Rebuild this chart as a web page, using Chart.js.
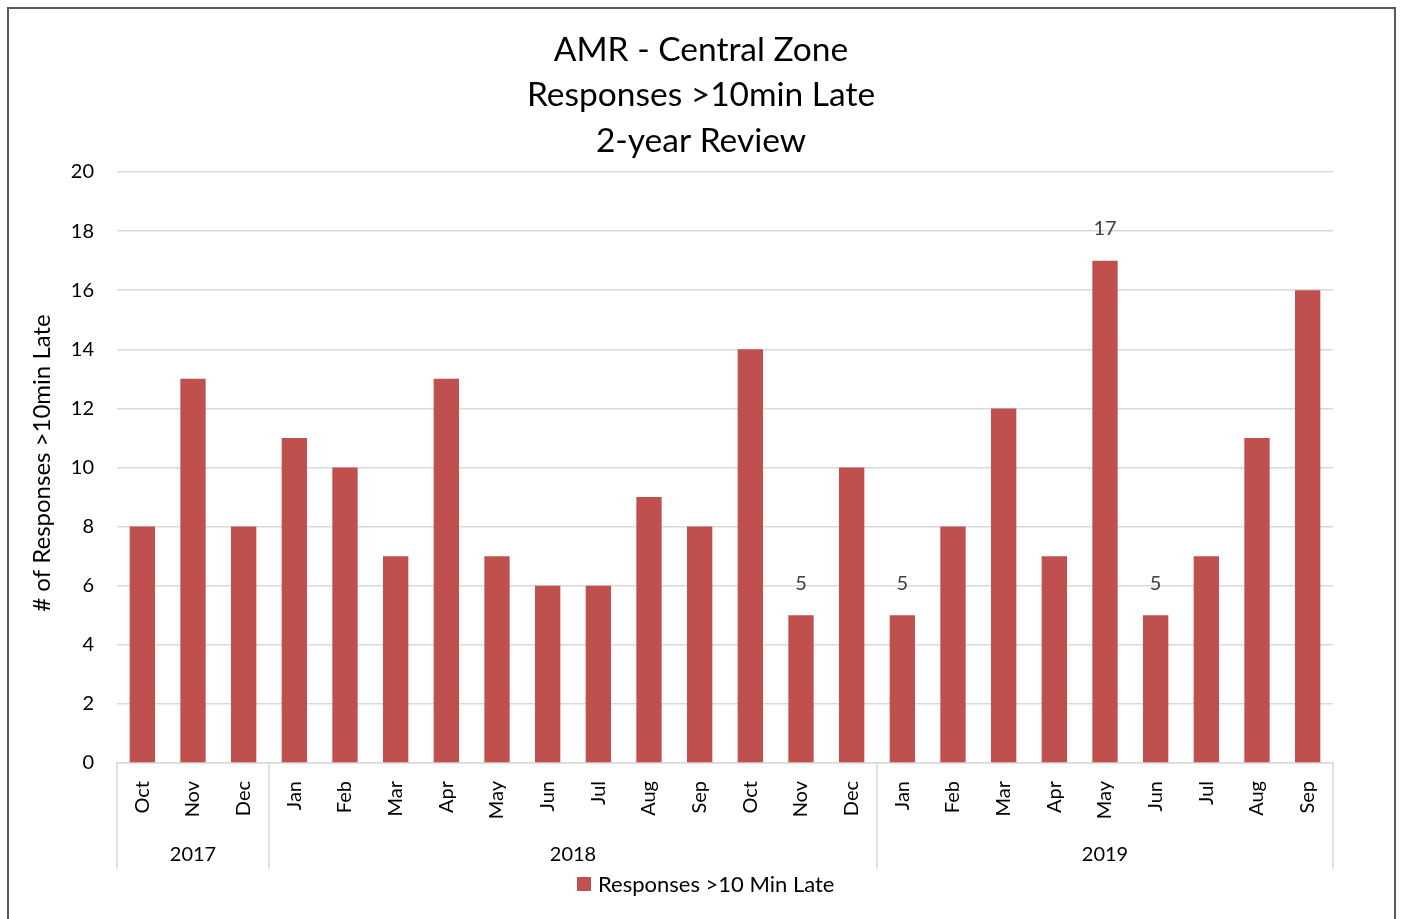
<!DOCTYPE html>
<html>
<head>
<meta charset="utf-8">
<script src="https://cdn.jsdelivr.net/npm/chart.js@4"></script>
<style>
  html, body { margin: 0; padding: 0; background: #fff; }
  #wrap { width: 1401px; height: 919px; position: relative; }
</style>
</head>
<body>
<div id="wrap"><canvas id="chart" width="1401" height="919"></canvas></div>
<script>
// data
const months = ['Oct', 'Nov', 'Dec', 'Jan', 'Feb', 'Mar', 'Apr', 'May', 'Jun', 'Jul', 'Aug', 'Sep',
  'Oct', 'Nov', 'Dec', 'Jan', 'Feb', 'Mar', 'Apr', 'May', 'Jun', 'Jul', 'Aug', 'Sep'];
const years = ['2017', '2018', '2019'];
const yearCounts = [3, 12, 9];
const lateResponses = [8, 13, 8, 11, 10, 7, 13, 7, 6, 6, 9, 8, 14, 5, 10, 5, 8, 12, 7, 17, 5, 7, 11, 16];
const labelled = [13, 15, 19, 20]; // bars that carry a data label
const titleLines = ['AMR - Central Zone', 'Responses >10min Late', '2-year Review'];
const yTicks = [0, 2, 4, 6, 8, 10, 12, 14, 16, 18, 20];

const FONT = 'Lato, "Open Sans", sans-serif';
const RED = '#C0504D';

const decorPlugin = {
  id: 'decor',
  afterDraw(chart) {
    const ctx = chart.ctx;
    const xs = chart.scales.x;
    const ys = chart.scales.y;
    const area = chart.chartArea;
    ctx.save();

    // outer frame
    ctx.strokeStyle = '#595959';
    ctx.lineWidth = 2;
    ctx.strokeRect(8, 8, 1387, 930);

    // title
    ctx.fillStyle = '#000';
    ctx.textAlign = 'center';
    ctx.textBaseline = 'middle';
    ctx.font = '33.5px ' + FONT;
    titleLines.forEach((t, i) => ctx.fillText(t, 701, 50 + i * 45.5));

    // data labels
    ctx.font = '20px ' + FONT;
    ctx.fillStyle = '#404040';
    labelled.forEach(i => {
      const x = xs.getPixelForValue(i);
      const y = ys.getPixelForValue(lateResponses[i]) - 32;
      ctx.fillText(String(lateResponses[i]), x, y);
    });

    // month labels, rotated
    ctx.fillStyle = '#000';
    ctx.font = '20px ' + FONT;
    months.forEach((m, i) => {
      const x = xs.getPixelForValue(i);
      ctx.save();
      ctx.translate(x, 781);
      ctx.rotate(-Math.PI / 2);
      ctx.textAlign = 'right';
      ctx.textBaseline = 'middle';
      ctx.fillText(m, 0, 0);
      ctx.restore();
    });

    // group separators and year labels
    const step = (area.right - area.left) / months.length;
    ctx.strokeStyle = '#d9d9d9';
    ctx.lineWidth = 1.5;
    let start = 0;
    const edge = (k) => area.left + k * step;
    ctx.beginPath();
    ctx.moveTo(edge(0), area.bottom);
    ctx.lineTo(edge(0), 869);
    ctx.stroke();
    years.forEach((yr, j) => {
      const end = start + yearCounts[j];
      ctx.beginPath();
      ctx.moveTo(edge(end), area.bottom);
      ctx.lineTo(edge(end), 869);
      ctx.stroke();
      ctx.fillStyle = '#000';
      ctx.textAlign = 'center';
      ctx.fillText(yr, (edge(start) + edge(end)) / 2, 855);
      start = end;
    });

    // y axis title
    ctx.save();
    ctx.translate(42, 463);
    ctx.rotate(-Math.PI / 2);
    ctx.font = '24px ' + FONT;
    ctx.textAlign = 'center';
    ctx.fillText('# of Responses >10min Late', 0, 0);
    ctx.restore();

    // legend
    ctx.fillStyle = RED;
    ctx.fillRect(577, 877, 14, 14);
    ctx.fillStyle = '#000';
    ctx.textAlign = 'left';
    ctx.font = '22px ' + FONT;
    ctx.fillText('Responses >10 Min Late', 598, 885);

    ctx.restore();
  }
};

const ctx = document.getElementById('chart').getContext('2d');
const chart = new Chart(ctx, {
  type: 'bar',
  data: {
    labels: months,
    datasets: [{
      label: 'Responses >10 Min Late',
      data: lateResponses,
      backgroundColor: RED,
      categoryPercentage: 1,
      barPercentage: 0.5,
    }],
  },
  options: {
    responsive: false,
    animation: false,
    layout: { padding: { left: 0, top: 172, right: 68, bottom: 0 } },
    plugins: {
      legend: { display: false },
      title: { display: false },
      tooltip: { enabled: false },
    },
    scales: {
      x: {
        grid: { display: false },
        border: { color: '#d9d9d9', width: 1.5 },
        ticks: { display: false },
        afterFit(scale) { scale.height = 919 - 763; },
      },
      y: {
        min: 0,
        max: 20,
        afterBuildTicks(scale) { scale.ticks = yTicks.map(v => ({ value: v })); },
        grid: { color: '#d9d9d9', lineWidth: 1.5, drawTicks: false },
        border: { display: false },
        ticks: {
          padding: 23,
          color: '#000',
          font: { family: FONT, size: 20 },
        },
        afterFit(scale) { scale.width = 117; },
      },
    },
  },
  plugins: [decorPlugin],
});
</script>
</body>
</html>
